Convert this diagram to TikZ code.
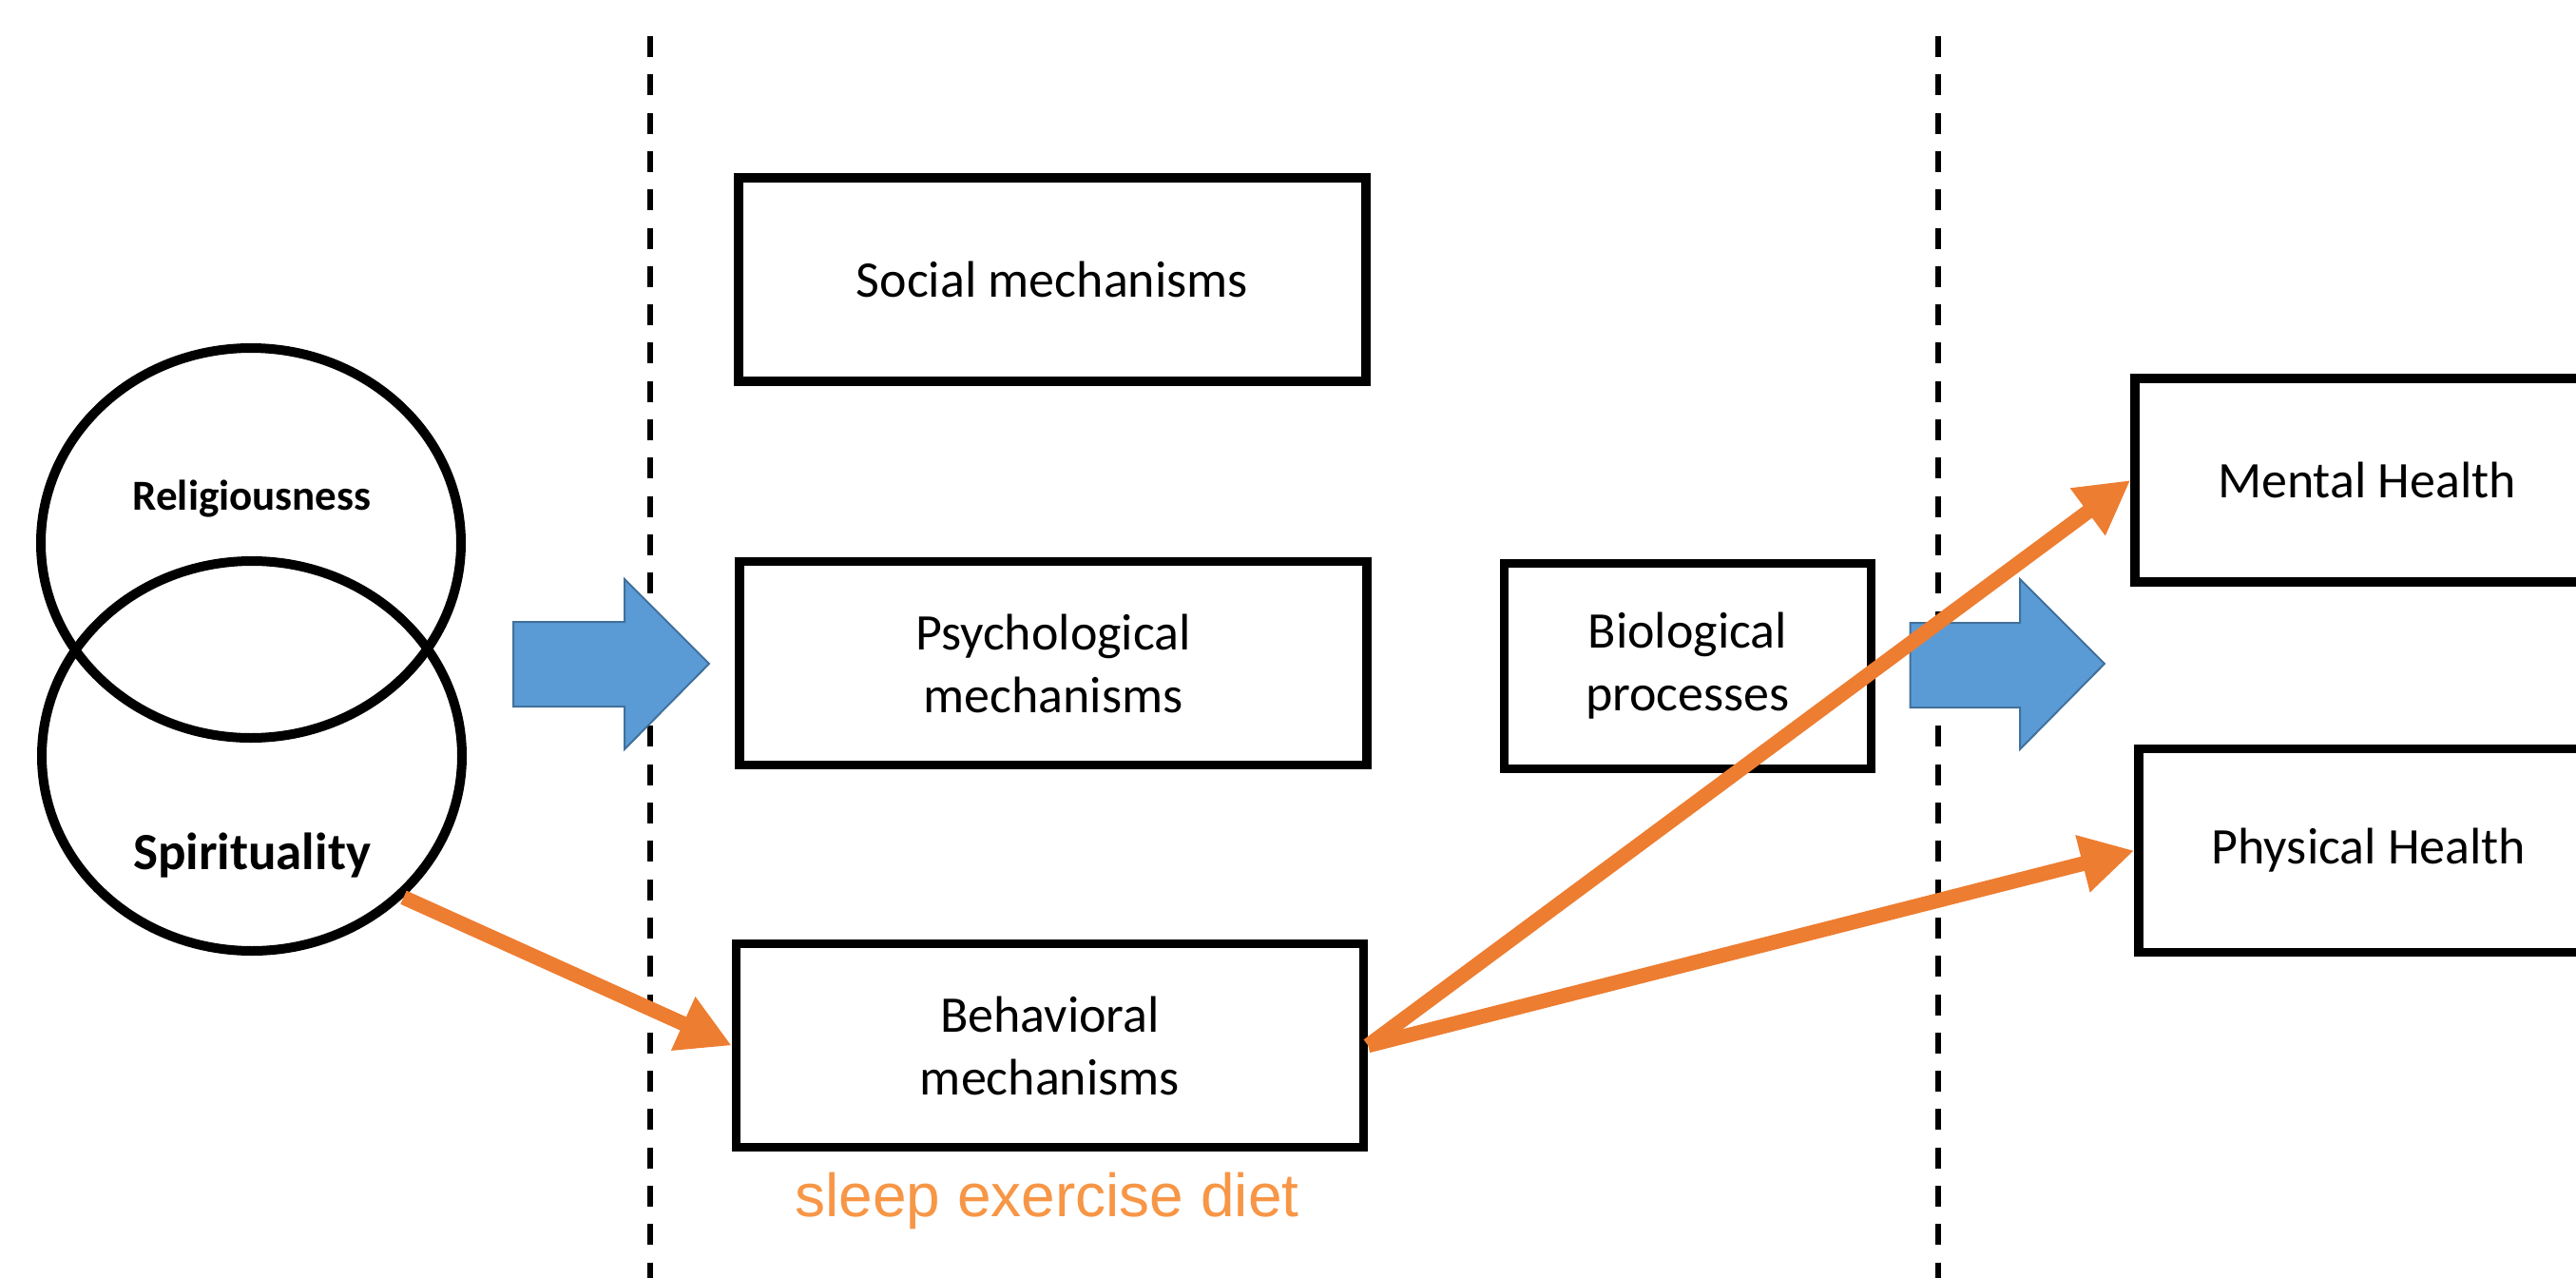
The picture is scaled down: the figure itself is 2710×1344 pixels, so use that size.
\documentclass[tikz,border=0pt]{standalone}
\usepackage{fontspec}
\setmainfont{Carlito}
\newfontfamily\arialfont{Liberation Sans}
\usetikzlibrary{shapes.geometric,arrows.meta}
\definecolor{orarrow}{HTML}{ED7D31}
\definecolor{ortext}{HTML}{F79646}
\definecolor{bluefill}{HTML}{5B9BD5}
\definecolor{blueline}{HTML}{41719C}
\begin{document}
\begin{tikzpicture}[x=1pt,y=-1pt,
  mbox/.style={draw=black, line width=9.5pt, rectangle, inner sep=0pt, align=center,
    minimum height=214pt, font=\fontsize{54}{66}\selectfont},
  ell/.style={draw=black, line width=10pt, ellipse, minimum width=442pt, minimum height=410pt, inner sep=0pt},
  dline/.style={line width=5.7pt, dash pattern=on 22pt off 18.3pt},
  oarrow/.style={draw=orarrow, line width=15.5pt, -{Triangle[length=56pt,width=58pt]}},
  barrow/.style={fill=bluefill, draw=blueline, line width=2pt, line join=miter}]
\useasboundingbox (0,0) rectangle (2710,1344);
% dashed separators
\draw[dline] (684,38) -- (684,1344);
\draw[dline] (2039,38) -- (2039,1344);
% blue block arrows
\draw[barrow] (540,654) -- (657,654) -- (657,609) -- (746,698) -- (657,788) -- (657,743) -- (540,743) -- cycle;
\draw[barrow] (2009.5,655) -- (2125,655) -- (2125,609) -- (2214,698) -- (2125,788) -- (2125,744) -- (2009.5,744) -- cycle;
% ellipses
\node[ell] (relig) at (264,571) {};
\node[ell] (spir) at (265,795) {};
\node[font=\bfseries\fontsize{45}{54}\selectfont, anchor=base] (reltext) at (265,536) {Religiousness};
\node[font=\bfseries\fontsize{55}{66}\selectfont, anchor=base] (spirtext) at (265,914) {Spirituality};
% boxes
\node[mbox, minimum width=660pt] (social) at (1107,294) {Social mechanisms};
\node[mbox, minimum width=660pt] (psych) at (1108,697.5) {Psychological\\mechanisms};
\node[mbox, minimum width=660pt] (beh) at (1104.5,1099.5) {Behavioral\\mechanisms};
\node[mbox, minimum width=386pt, minimum height=216pt] (bio) at (1775.5,700.5) {Biological\\processes};
\node[mbox, minimum width=488pt] (mental) at (2490,505) {Mental Health};
\node[mbox, minimum width=484pt] (phys) at (2492,894.5) {Physical Health};
\node[font=\arialfont\fontsize{64}{77}\selectfont, text=ortext, anchor=base] (sleep) at (1101.5,1279) {sleep exercise diet};
% orange arrows
\draw[oarrow] (spir.-43) -- (beh.west);
\draw[oarrow] (beh.east) -- (mental.west);
\draw[oarrow] (beh.east) -- (phys.west);
\end{tikzpicture}
\end{document}
